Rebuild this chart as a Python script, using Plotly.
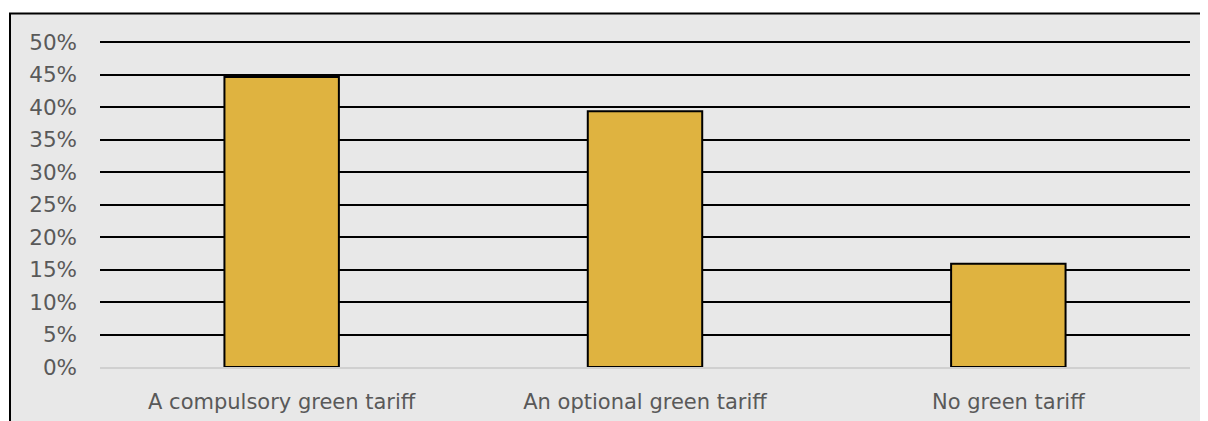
import plotly.graph_objects as go

categories = ["A compulsory green tariff", "An optional green tariff", "No green tariff"]
values = [0.447, 0.394, 0.159]
tick_vals = [0, 0.05, 0.10, 0.15, 0.20, 0.25, 0.30, 0.35, 0.40, 0.45, 0.50]
tick_text = ["0%", "5%", "10%", "15%", "20%", "25%", "30%", "35%", "40%", "45%", "50%"]
y_max = 0.51

# page body adds an 8px offset; positions below are in figure pixels
W, H = 1208, 421
OFF = 8
PX_PER_UNIT = 650.0  # 5% = 32.5px
top_px = 367 - y_max * PX_PER_UNIT
L, R, T, B = 100 - OFF, 1208 - (1190 - OFF), top_px - OFF, 421 - (367 - OFF)
pw = W - L - R
ph = H - T - B

fig = go.Figure(go.Bar(
    x=categories, y=values,
    marker=dict(color="#DFB340", line=dict(color="#000000", width=2)),
    width=0.315,
))

def px_x(p):
    return (p - OFF - L) / pw

def px_y(p):
    return (H - B - (p - OFF)) / ph

fig.add_shape(type="rect", xref="paper", yref="paper",
              x0=px_x(10), x1=px_x(1240), y0=px_y(460), y1=px_y(13),
              fillcolor="#E8E8E8", line=dict(color="#000000", width=2), layer="below")

font_family = "DejaVu Sans"
fig.update_layout(
    width=W, height=H,
    margin=dict(l=L, r=R, t=T, b=B, pad=0),
    paper_bgcolor="white",
    plot_bgcolor="rgba(0,0,0,0)",
    showlegend=False,
    font=dict(family=font_family, size=21, color="#595959"),
)
fig.update_yaxes(range=[0, y_max], tickvals=tick_vals, ticktext=tick_text,
                 showgrid=True, gridcolor="#000000", gridwidth=1.5,
                 zeroline=False, showline=False, ticks="", ticklabelstandoff=22,
                 tickfont=dict(family=font_family, size=21.5, color="#595959"))
fig.update_xaxes(showgrid=False, showline=True, linecolor="#D0D0D0", linewidth=1.5,
                 ticks="", ticklabelstandoff=15,
                 tickfont=dict(family=font_family, size=21, color="#595959"))

fig.write_html("out.html")
